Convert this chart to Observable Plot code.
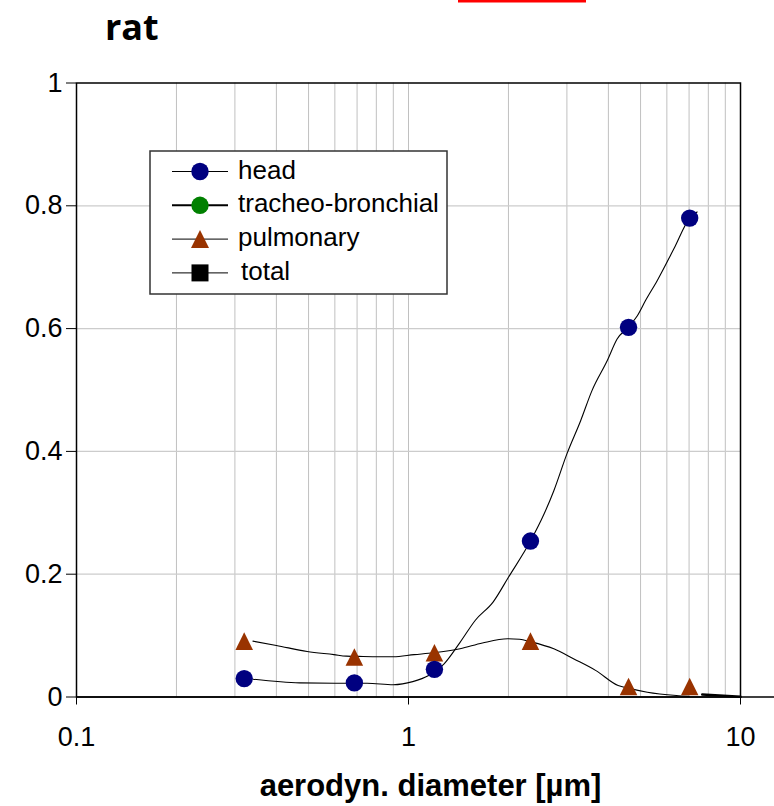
<!DOCTYPE html>
<html><head><meta charset="utf-8">
<script src="https://cdn.jsdelivr.net/npm/d3@7"></script>
<script src="https://cdn.jsdelivr.net/npm/@observablehq/plot@0.6"></script>
<style>
html,body{margin:0;padding:0;background:#fff;}
#chart{width:774px;height:806px;}
</style></head><body><div id="chart"></div>
<script>
// ---- texts and ticks ----
const title = "rat";
const xLabel = "aerodyn. diameter [µm]";
const xTicks = [0.1, 1, 10];
const xTickLabels = ["0.1", "1", "10"];
const yTicks = [0, 0.2, 0.4, 0.6, 0.8, 1];
const yTickLabels = ["0", "0.2", "0.4", "0.6", "0.8", "1"];
const gridX = [0.2, 0.3, 0.4, 0.5, 0.6, 0.7, 0.8, 0.9, 1, 2, 3, 4, 5, 6, 7, 8, 9];
const gridY = [0.2, 0.4, 0.6, 0.8];
const xAxisEnd = 12.7;

// ---- legend ----
const legendLabels = ["head", "tracheo-bronchial", "pulmonary", "total"];
const legendColors = ["#000080", "#008000", "#993300", "#000000"];
const legendShapes = ["circle", "circle", "triangle", "square"];

// ---- measured values (markers) ----
const markerX = [0.32, 0.687, 1.197, 2.33, 4.6, 7.03];
const headMeasured = [0.030, 0.023, 0.045, 0.254, 0.602, 0.780];
const pulmonaryMeasured = [0.091, 0.065, 0.072, 0.091, 0.017, 0.017];

// ---- model curves ----
const headCurveX = [0.34, 0.47, 0.60, 0.75, 0.90, 1.03, 1.15, 1.28, 1.43, 1.59, 1.80, 2.0, 2.33, 2.56, 2.74, 3.0, 3.3, 3.57, 3.97, 4.25, 4.6, 4.89, 5.18, 5.61, 6.3, 7.03, 7.4];
const headCurveY = [0.029, 0.023, 0.0225, 0.0225, 0.020, 0.025, 0.035, 0.054, 0.089, 0.125, 0.155, 0.195, 0.254, 0.298, 0.336, 0.396, 0.450, 0.499, 0.548, 0.583, 0.603, 0.621, 0.646, 0.678, 0.730, 0.780, 0.790];
const pulmCurveX = [0.34, 0.40, 0.495, 0.596, 0.65, 0.73, 0.90, 1.04, 1.19, 1.43, 1.67, 1.99, 2.16, 2.33, 2.74, 3.15, 3.67, 4.28, 4.62, 5.24, 6.41, 7.0];
const pulmCurveY = [0.091, 0.084, 0.074, 0.069, 0.0665, 0.066, 0.0655, 0.069, 0.072, 0.0785, 0.088, 0.0948, 0.094, 0.090, 0.0785, 0.062, 0.043, 0.0187, 0.014, 0.0078, 0.0024, 0.001];
const totalTailX = [7.67, 10];
const totalTailY = [0.004, 0.0003];

const pts = (xs, ys) => xs.map((x, i) => ({x, y: ys[i]}));

const triangleUp = {
  draw(ctx, size) {
    const h = Math.sqrt(size / Math.PI) * 1.35;
    ctx.moveTo(0, -h); ctx.lineTo(h, h); ctx.lineTo(-h, h); ctx.closePath();
  }
};

const plot = Plot.plot({
  width: 774,
  height: 806,
  marginLeft: 76,
  marginRight: 34,
  marginTop: 82.5,
  marginBottom: 109.5,
  style: {fontFamily: "'Liberation Sans', Arial, sans-serif", fontSize: "27px", color: "#000", background: "#fff"},
  x: {type: "log", domain: [0.1, 10], ticks: xTicks, tickFormat: d => xTickLabels[xTicks.indexOf(d)], tickSize: 8, tickPadding: 22, label: null},
  y: {domain: [0, 1], ticks: yTicks, tickFormat: d => yTickLabels[yTicks.indexOf(d)], tickSize: 10, tickPadding: 4, label: null},
  marks: [
    Plot.ruleX(gridX, {stroke: "#c0c0c0", strokeWidth: 1}),
    Plot.ruleY(gridY, {stroke: "#cccccc", strokeWidth: 1.2}),
    Plot.line(pts(headCurveX, headCurveY), {x: "x", y: "y", stroke: "#000", strokeWidth: 1.1, curve: "monotone-x"}),
    Plot.line(pts(pulmCurveX, pulmCurveY), {x: "x", y: "y", stroke: "#000", strokeWidth: 1.1, curve: "monotone-x"}),
    Plot.line(pts(totalTailX, totalTailY), {x: "x", y: "y", stroke: "#000", strokeWidth: 2.5}),
    Plot.ruleY([{y: 0, x1: xTicks[0], x2: xAxisEnd}], {y: "y", x1: "x1", x2: "x2", stroke: "#000", strokeWidth: 1.5}),
    Plot.frame({stroke: "#000", strokeWidth: 1.5}),
    Plot.dot(pts(markerX, pulmonaryMeasured), {x: "x", y: "y", symbol: triangleUp, r: 6.5, fill: legendColors[2], stroke: "none"}),
    Plot.dot(pts(markerX, headMeasured), {x: "x", y: "y", r: 8.7, fill: legendColors[0], stroke: "none"}),
    Plot.text([xLabel], {frameAnchor: "bottom", dx: 22, dy: 89.5, lineAnchor: "middle", textAnchor: "middle", fontWeight: "bold", fontSize: 31, fill: "#000"})
  ]
});

document.getElementById("chart").appendChild(plot);

// legend, title and top mark drawn into the same svg
const svg = d3.select(plot);
svg.append("rect").attr("x", 458).attr("y", 0).attr("width", 128).attr("height", 2.5).attr("fill", "#ff0000");
svg.append("text").attr("x", 105).attr("y", 40).attr("text-anchor", "start").text(title)
  .attr("font-family", "'Open Sans', sans-serif").attr("font-weight", "bold").attr("font-size", 36).attr("fill", "#000");

const lg = svg.append("g");
lg.append("rect").attr("x", 150).attr("y", 151).attr("width", 297).attr("height", 143)
  .attr("fill", "#fff").attr("stroke", "#333").attr("stroke-width", 1.5);
legendLabels.forEach((lab, i) => {
  const y = 171.5 + i * 33.8;
  lg.append("line").attr("x1", 172).attr("x2", 228).attr("y1", y).attr("y2", y)
    .attr("stroke", "#000").attr("stroke-width", i === 1 ? 2 : 1);
  const c = legendColors[i];
  if (legendShapes[i] === "circle") {
    lg.append("circle").attr("cx", 200).attr("cy", y).attr("r", 8.7).attr("fill", c);
  } else if (legendShapes[i] === "triangle") {
    lg.append("path").attr("d", `M200,${y - 9}L209,${y + 9}L191,${y + 9}Z`).attr("fill", c);
  } else {
    lg.append("rect").attr("x", 191.5).attr("y", y - 8.5).attr("width", 17).attr("height", 17).attr("fill", c);
  }
  lg.append("text").attr("x", i === 3 ? 241 : 238).attr("y", y + 7).attr("text-anchor", "start").text(lab)
    .attr("font-family", "'Liberation Sans', Arial, sans-serif").attr("font-size", 26).attr("fill", "#000");
});
</script></body></html>
